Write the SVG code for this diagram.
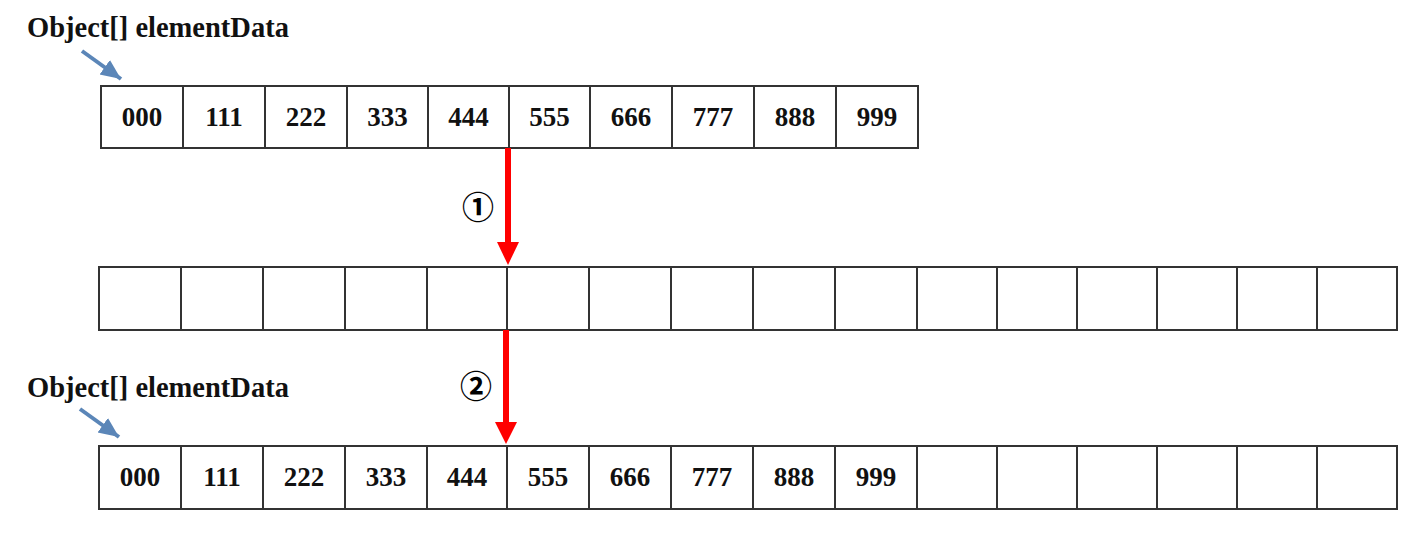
<svg xmlns="http://www.w3.org/2000/svg" width="1416" height="540" viewBox="0 0 1416 540">
<defs>
<style>
.cell{fill:#fff;stroke:#333;stroke-width:2}
.num{font-family:"Liberation Serif","Times New Roman",serif;font-weight:bold;font-size:27px;fill:#111;text-anchor:middle}
.lbl{font-family:"Liberation Serif","Times New Roman",serif;font-weight:bold;font-size:28.5px;fill:#111}
.circ{font-family:"Noto Sans CJK SC",sans-serif;font-weight:bold;font-size:32px;fill:#000;text-anchor:middle}
.ptr{stroke:#5b86b8;stroke-width:4;fill:none}
.red{stroke:#ff0000;stroke-width:6;fill:none}
</style>
<marker id="bluehead" markerUnits="userSpaceOnUse" markerWidth="20" markerHeight="20" refX="18" refY="8" orient="auto" viewBox="0 0 18 16">
<path d="M0,0 L18,8 L0,16 Z" fill="#5b86b8"/>
</marker>
</defs>

<g id="label-top">
<text class="lbl" x="27" y="37">Object[] elementData</text>
</g>
<g id="label-bottom">
<text class="lbl" x="27" y="397">Object[] elementData</text>
</g>

<g id="array-old">
<rect class="cell" x="101" y="86" width="817" height="62"/>
<path class="cell" d="M183,86V148M265,86V148M347,86V148M428,86V148M509,86V148M590,86V148M672,86V148M754,86V148M836,86V148"/>
<text class="num" x="142" y="126">000</text>
<text class="num" x="224" y="126">111</text>
<text class="num" x="306" y="126">222</text>
<text class="num" x="387.5" y="126">333</text>
<text class="num" x="468.5" y="126">444</text>
<text class="num" x="549.5" y="126">555</text>
<text class="num" x="631" y="126">666</text>
<text class="num" x="713" y="126">777</text>
<text class="num" x="795" y="126">888</text>
<text class="num" x="877" y="126">999</text>
</g>

<g id="array-new">
<rect class="cell" x="99" y="267" width="1298" height="63"/>
<path class="cell" d="M181,267V330M263,267V330M345,267V330M427,267V330M507,267V330M589,267V330M671,267V330M753,267V330M835,267V330M917,267V330M997,267V330M1077,267V330M1157,267V330M1237,267V330M1317,267V330"/>
</g>

<g id="array-result">
<rect class="cell" x="99" y="446" width="1298" height="63"/>
<path class="cell" d="M181,446V509M263,446V509M345,446V509M427,446V509M507,446V509M589,446V509M671,446V509M753,446V509M835,446V509M917,446V509M997,446V509M1077,446V509M1157,446V509M1237,446V509M1317,446V509"/>
<text class="num" x="140" y="486">000</text>
<text class="num" x="222" y="486">111</text>
<text class="num" x="304" y="486">222</text>
<text class="num" x="386" y="486">333</text>
<text class="num" x="467" y="486">444</text>
<text class="num" x="548" y="486">555</text>
<text class="num" x="630" y="486">666</text>
<text class="num" x="712" y="486">777</text>
<text class="num" x="794" y="486">888</text>
<text class="num" x="876" y="486">999</text>
</g>

<g id="step1">
<text class="circ" x="478" y="219">①</text>
</g>
<g id="step2">
<text class="circ" x="476" y="398">②</text>
</g>

<g id="connectors">
<line class="ptr" x1="82" y1="51" x2="121" y2="79" marker-end="url(#bluehead)"/>
<line class="ptr" x1="80" y1="409" x2="119" y2="437" marker-end="url(#bluehead)"/>
<line class="red" x1="508" y1="148" x2="508" y2="244"/>
<path d="M497,242 L519,242 L508,265 Z" fill="#ff0000"/>
<line class="red" x1="506" y1="330" x2="506" y2="424"/>
<path d="M495,422 L517,422 L506,444 Z" fill="#ff0000"/>
</g>
</svg>
